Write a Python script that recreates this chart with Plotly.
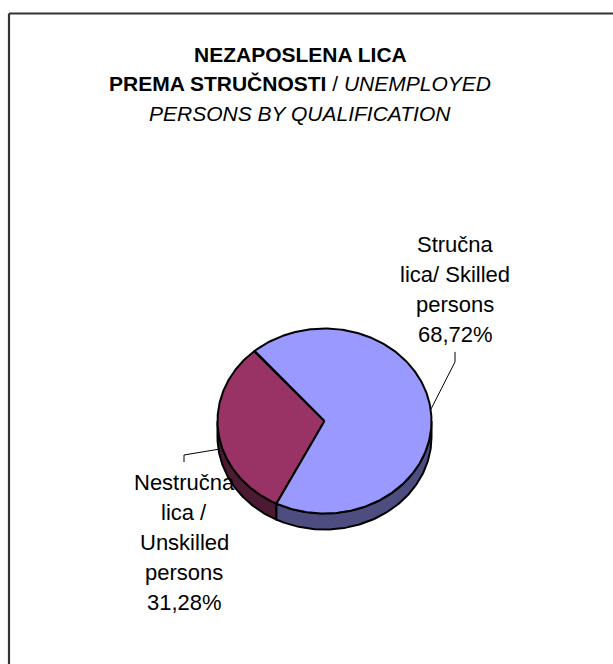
import numpy as np
import plotly.graph_objects as go

# ---- data ----
categories = ["Nestručna lica / Unskilled persons", "Stručna lica/ Skilled persons"]
values = [31.28, 68.72]
label_words = [["Nestručna", "lica /", "Unskilled", "persons"],
               ["Stručna", "lica/ Skilled", "persons"]]
top_colors = ["#993366", "#9999FF"]
side_colors = ["#4D1A33", "#4D4D80"]

title_lines = ["<b>NEZAPOSLENA LICA</b>",
               "<b>PREMA STRUČNOSTI</b> / <i>UNEMPLOYED</i>",
               "<i>PERSONS BY QUALIFICATION</i>"]

# ---- geometry (layout constants, pixel space) ----
W, H = 613, 664
CX, CY, RX, RY, DEPTH = 324.5, 421.0, 107.0, 92.5, 16.0
START = 130.7  # parametric angle where first slice starts (ccw)
FONT = "Liberation Sans, Arial, sans-serif"


def pt(t, dz=0.0):
    r = np.radians(t)
    return CX + RX * np.cos(r), CY - RY * np.sin(r) + dz


fig = go.Figure()

fracs = np.array(values) / sum(values)
bounds = START + 360 * np.concatenate([[0], np.cumsum(fracs)])
slices = [(bounds[i], bounds[i + 1]) for i in range(len(values))]

# side faces (visible front half: 180..360 and 540..720)
for i, (a, b) in enumerate(slices):
    for lo, hi in [(180, 360), (540, 720)]:
        s, e = max(a, lo), min(b, hi)
        if e <= s:
            continue
        ts = np.linspace(s, e, 120)
        xt, yt = pt(ts)
        xb, yb = pt(ts[::-1], DEPTH)
        xs = np.concatenate([xt, xb, xt[:1]])
        ys = np.concatenate([yt, yb, yt[:1]])
        fig.add_trace(go.Scatter(x=xs, y=ys, mode="lines", fill="toself",
                                 fillcolor=side_colors[i],
                                 line=dict(color="black", width=2),
                                 hoverinfo="skip", showlegend=False))

# top faces
for i, (a, b) in enumerate(slices):
    ts = np.linspace(a, b, 300)
    xa, ya = pt(ts)
    xs = np.concatenate([[CX], xa, [CX]])
    ys = np.concatenate([[CY], ya, [CY]])
    fig.add_trace(go.Scatter(x=xs, y=ys, mode="lines", fill="toself",
                             fillcolor=top_colors[i],
                             line=dict(color="black", width=2),
                             hoverinfo="skip", showlegend=False,
                             name=categories[i]))

# labels
label_pos = [(184, 482, 30.0), (455, 244, 30.3)]
annotations = []
for i, v in enumerate(values):
    lines = label_words[i] + [f"{v:.2f}".replace(".", ",") + "%"]
    lx, ly, sp = label_pos[i]
    for k, txt in enumerate(lines):
        annotations.append(dict(x=lx, y=ly + k * sp, xref="x", yref="y",
                                text=txt, showarrow=False,
                                xanchor="center", yanchor="middle",
                                font=dict(family=FONT, size=22, color="black")))

# leader lines
mid0 = (slices[0][0] + slices[0][1]) / 2
ax0, ay0 = pt(mid0, DEPTH + 1)
lx0, ly0, _ = label_pos[0]
fig.add_trace(go.Scatter(x=[ax0, lx0, lx0], y=[ay0, ly0 - 27, ly0 - 20],
                         mode="lines", line=dict(color="black", width=1),
                         hoverinfo="skip", showlegend=False))
mid1 = (slices[1][0] + slices[1][1]) / 2
ax1, ay1 = pt(mid1)
lx1, ly1, sp1 = label_pos[1]
ybot = ly1 + 3 * sp1
fig.add_trace(go.Scatter(x=[ax1, lx1, lx1], y=[ay1, ybot + 27, ybot + 17],
                         mode="lines", line=dict(color="black", width=1),
                         hoverinfo="skip", showlegend=False))

# title
for k, txt in enumerate(title_lines):
    annotations.append(dict(x=300, y=54 + k * 29.5, xref="x", yref="y",
                            text=txt, showarrow=False,
                            xanchor="center", yanchor="middle",
                            font=dict(family=FONT, size=21, color="black")))

frame = dict(color="#333333", width=2.2)
fig.update_layout(
    width=W, height=H,
    margin=dict(l=0, r=0, t=0, b=0),
    paper_bgcolor="white", plot_bgcolor="white",
    xaxis=dict(range=[0, W], visible=False, fixedrange=True),
    yaxis=dict(range=[H, 0], visible=False, fixedrange=True),
    annotations=annotations,
    shapes=[dict(type="line", xref="x", yref="y", x0=9, y0=13.5, x1=W, y1=13.5,
                 line=frame, layer="below"),
            dict(type="line", xref="x", yref="y", x0=9, y0=13.5, x1=9, y1=H,
                 line=frame, layer="below")],
    showlegend=False,
)

fig.write_html("out.html",
               config={"displayModeBar": False, "staticPlot": True},
               post_script="document.body.style.margin='0';document.body.style.overflow='hidden';")
